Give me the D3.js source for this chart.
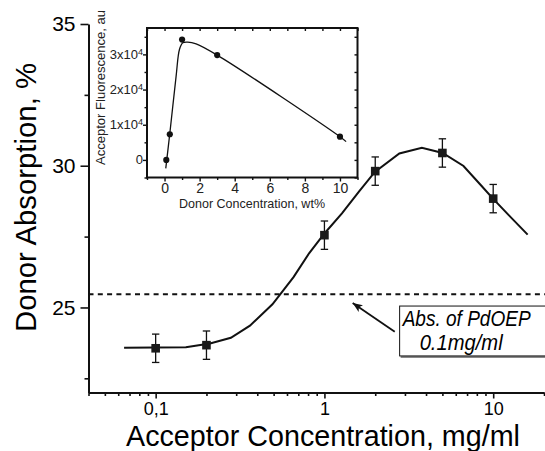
<!DOCTYPE html>
<html>
<head>
<meta charset="utf-8">
<script src="https://cdn.jsdelivr.net/npm/d3@7"></script>
<style>
  body { margin: 0; background: #fff; }
  svg { display: block; font-family: "Liberation Sans", Arial, sans-serif; }
</style>
</head>
<body>
<svg id="chart" width="545" height="451"></svg>
<script>
// main plot: donor absorption vs acceptor concentration
const acceptorConc = [0.1, 0.2, 1, 2, 5, 10];
const donorAbs = [23.56, 23.67, 27.55, 29.81, 30.45, 28.84];
const donorAbsErr = [0.5, 0.5, 0.5, 0.5, 0.5, 0.5];

// fitted curve of main plot
const fitConc = [0.065, 0.151, 0.21, 0.279, 0.362, 0.492, 0.656, 0.811, 1, 1.27, 1.61, 1.99, 2.78, 3.78, 5.02, 6.67, 8.46, 9.97, 12.4, 16.0];
const fitAbs = [23.58, 23.60, 23.73, 23.93, 24.36, 25.11, 26.07, 26.91, 27.61, 28.32, 29.10, 29.78, 30.43, 30.63, 30.45, 29.99, 29.31, 28.84, 28.25, 27.57];

const pdoepLevel = 25.47;

const xMajorTicks = [0.1, 1, 10];
const xTickLabels = ["0,1", "1", "10"];
const xMinorTicks = [0.04, 0.05, 0.06, 0.07, 0.08, 0.09, 0.2, 0.3, 0.4, 0.5, 0.6, 0.7, 0.8, 0.9, 2, 3, 4, 5, 6, 7, 8, 9, 20];
const yMajorTicks = [25, 30, 35];
const yMinorTicks = [22.5, 27.5, 32.5];

// inset: acceptor fluorescence vs donor concentration
const donorConc = [0.1, 0.3, 1, 3, 10];
const acceptorFluor = [0, 7300, 34200, 29800, 6600];
const insetFitConc = [0.07, 0.3, 0.66, 0.85, 1.04, 1.32, 1.8, 3, 10, 10.35];
const insetFitFluor = [-2400, 7500, 23800, 31400, 33300, 33500, 33000, 29800, 6600, 5200];
const insetXTicks = [0, 2, 4, 6, 8, 10];
const insetXMinor = [-1, 1, 3, 5, 7, 9, 11];
const insetYTicks = [0, 10000, 20000, 30000];
const insetYTickMant = ["0", "1x10", "2x10", "3x10"];
const insetYMinor = [-5000, 5000, 15000, 25000, 35000];

const svg = d3.select("#chart");

const x = d3.scaleLog().domain([0.04, 20]).range([88.5, 544]);
const y = d3.scaleLinear().domain([22, 35]).range([392.5, 24]);

// axes
const gx = svg.append("g").attr("transform", "translate(0,392.5)");
gx.call(d3.axisBottom(x).tickValues(xMajorTicks).tickSize(6).tickSizeOuter(0).tickPadding(4)
  .tickFormat((d, i) => xTickLabels[i]));
gx.append("g").call(d3.axisBottom(x).tickValues(xMinorTicks).tickSize(3.5).tickFormat(""))
  .select(".domain").remove();
gx.selectAll("text").attr("font-size", 18).attr("fill", "#000").attr("font-family", null);

const gy = svg.append("g").attr("transform", "translate(88.5,0)");
gy.call(d3.axisLeft(y).tickValues(yMajorTicks).tickSize(8).tickSizeOuter(0).tickPadding(5));
gy.append("g").call(d3.axisLeft(y).tickValues(yMinorTicks).tickSize(4).tickFormat(""))
  .select(".domain").remove();
gy.selectAll("text").attr("font-size", 21).attr("fill", "#000").attr("font-family", null);

svg.selectAll(".domain").attr("stroke-width", 2).attr("stroke", "#111");
svg.selectAll(".tick line").attr("stroke-width", 1.6).attr("stroke", "#111");

// axis titles
svg.append("text")
  .attr("transform", "translate(36,197.5) rotate(-90)")
  .attr("text-anchor", "middle").attr("font-size", 30)
  .attr("textLength", 269).attr("lengthAdjust", "spacingAndGlyphs")
  .text("Donor Absorption, %");
svg.append("text")
  .attr("x", 323).attr("y", 446)
  .attr("text-anchor", "middle").attr("font-size", 29)
  .attr("textLength", 394).attr("lengthAdjust", "spacingAndGlyphs")
  .text("Acceptor Concentration, mg/ml");

// dashed reference line
svg.append("line")
  .attr("x1", x(0.04)).attr("x2", 545)
  .attr("y1", y(pdoepLevel)).attr("y2", y(pdoepLevel))
  .attr("stroke", "#111").attr("stroke-width", 2).attr("stroke-dasharray", "5,4.3");

// fit curve
const fitPts = fitConc.map((c, i) => [c, fitAbs[i]]);
svg.append("path")
  .datum(fitPts)
  .attr("d", d3.line().x(d => x(d[0])).y(d => y(d[1])))
  .attr("fill", "none").attr("stroke", "#111").attr("stroke-width", 2);

// error bars + square markers
const pts = acceptorConc.map((c, i) => ({c: c, v: donorAbs[i], e: donorAbsErr[i]}));
const eb = svg.append("g").attr("stroke", "#111").attr("stroke-width", 1.3);
pts.forEach(p => {
  eb.append("line").attr("x1", x(p.c)).attr("x2", x(p.c)).attr("y1", y(p.v - p.e)).attr("y2", y(p.v + p.e));
  eb.append("line").attr("x1", x(p.c) - 3.7).attr("x2", x(p.c) + 3.7).attr("y1", y(p.v - p.e)).attr("y2", y(p.v - p.e));
  eb.append("line").attr("x1", x(p.c) - 3.7).attr("x2", x(p.c) + 3.7).attr("y1", y(p.v + p.e)).attr("y2", y(p.v + p.e));
});
svg.append("g").selectAll("rect").data(pts).join("rect")
  .attr("x", d => x(d.c) - 4.3).attr("y", d => y(d.v) - 4.3)
  .attr("width", 8.6).attr("height", 8.6).attr("fill", "#1a1a1a");

// annotation: arrow + box
svg.append("defs").append("marker")
  .attr("id", "ah").attr("viewBox", "0 0 10 8").attr("refX", 10).attr("refY", 4)
  .attr("markerWidth", 10).attr("markerHeight", 8).attr("markerUnits", "userSpaceOnUse")
  .attr("orient", "auto")
  .append("path").attr("d", "M0,0 L10,4 L0,8 L2.5,4 z").attr("fill", "#111");
svg.append("line")
  .attr("x1", x(2.61)).attr("y1", y(24.14))
  .attr("x2", x(1.47)).attr("y2", y(25.16))
  .attr("stroke", "#111").attr("stroke-width", 1.8).attr("marker-end", "url(#ah)");

const bx = x(2.79), by = y(25.05), bh = y(23.29) - y(25.05);
svg.append("line").attr("x1", bx + 1).attr("x2", 545).attr("y1", by + bh + 1).attr("y2", by + bh + 1)
  .attr("stroke", "#888").attr("stroke-width", 2);
svg.append("rect").attr("x", bx).attr("y", by).attr("width", 160).attr("height", bh)
  .attr("fill", "#fff").attr("stroke", "#111").attr("stroke-width", 1);
svg.append("text").attr("x", bx + 3).attr("y", by + 19.5)
  .attr("font-size", 22).attr("font-style", "italic")
  .attr("textLength", 128).attr("lengthAdjust", "spacingAndGlyphs")
  .text("Abs. of PdOEP");
svg.append("text").attr("x", bx + 20).attr("y", by + 44)
  .attr("font-size", 22).attr("font-style", "italic")
  .attr("textLength", 83).attr("lengthAdjust", "spacingAndGlyphs")
  .text("0.1mg/ml");

// ---------- inset ----------
const ix = d3.scaleLinear().domain([-1, 11]).range([147, 357.5]);
const iy = d3.scaleLinear().domain([-5000, 37500]).range([177.5, 28]);
const inset = svg.append("g");

inset.append("rect")
  .attr("x", ix(-1)).attr("y", iy(37500))
  .attr("width", ix(11) - ix(-1)).attr("height", iy(-5000) - iy(37500))
  .attr("fill", "#fff").attr("stroke", "#111").attr("stroke-width", 2);

// bottom ticks + labels
const ibx = inset.append("g").attr("transform", `translate(0,${iy(-5000)})`);
ibx.call(d3.axisBottom(ix).tickValues(insetXTicks).tickSize(4).tickPadding(1.5).tickFormat(d3.format("d")));
ibx.append("g").call(d3.axisBottom(ix).tickValues(insetXMinor).tickSize(2.5).tickFormat(""));
ibx.selectAll(".domain").remove();
ibx.selectAll("text").attr("font-size", 14).attr("fill", "#222").attr("font-family", null);

// top ticks (inward)
const itx = inset.append("g").attr("transform", `translate(0,${iy(37500)})`);
itx.call(d3.axisBottom(ix).tickValues(insetXTicks.concat(insetXMinor)).tickSize(3).tickFormat(""));
itx.selectAll(".domain").remove();

// left ticks + labels
const ily = inset.append("g").attr("transform", `translate(${ix(-1)},0)`);
ily.call(d3.axisLeft(iy).tickValues(insetYTicks).tickSize(4).tickPadding(2).tickFormat(""));
ily.append("g").call(d3.axisLeft(iy).tickValues(insetYMinor).tickSize(2.5).tickFormat(""));
ily.selectAll(".domain").remove();
insetYTicks.forEach((v, i) => {
  const t = inset.append("text")
    .attr("x", ix(-1) - 4).attr("y", iy(v)).attr("dy", "0.35em")
    .attr("text-anchor", "end").attr("font-size", 13).attr("fill", "#222");
  t.append("tspan").text(insetYTickMant[i]);
  if (v !== 0) t.append("tspan").attr("dy", "-0.45em").attr("font-size", 9).text("4");
});

// right ticks (inward)
const iry = inset.append("g").attr("transform", `translate(${ix(11)},0)`);
iry.call(d3.axisRight(iy).tickValues(insetYTicks.concat(insetYMinor)).tickSize(-3).tickFormat(""));
iry.selectAll(".domain").remove();

inset.selectAll(".tick line").attr("stroke", "#111").attr("stroke-width", 1.4);

// inset axis titles
inset.append("text")
  .attr("transform", "translate(104.5,87.5) rotate(-90)")
  .attr("text-anchor", "middle").attr("font-size", 13).attr("fill", "#222")
  .attr("textLength", 155).attr("lengthAdjust", "spacingAndGlyphs")
  .text("Acceptor Fluorescence, au");
inset.append("text")
  .attr("x", 252).attr("y", 208)
  .attr("text-anchor", "middle").attr("font-size", 12.5).attr("fill", "#222")
  .attr("textLength", 146).attr("lengthAdjust", "spacingAndGlyphs")
  .text("Donor Concentration, wt%");

// inset curve + points
const insetFit = insetFitConc.map((c, i) => [c, insetFitFluor[i]]);
inset.append("path")
  .datum(insetFit)
  .attr("d", d3.line().curve(d3.curveCatmullRom.alpha(0.5)).x(d => ix(d[0])).y(d => iy(d[1])))
  .attr("fill", "none").attr("stroke", "#111").attr("stroke-width", 1.3);
inset.append("g").selectAll("circle")
  .data(donorConc.map((c, i) => [c, acceptorFluor[i]]))
  .join("circle")
  .attr("cx", d => ix(d[0])).attr("cy", d => iy(d[1])).attr("r", 3.1)
  .attr("fill", "#111");
</script>
</body>
</html>
